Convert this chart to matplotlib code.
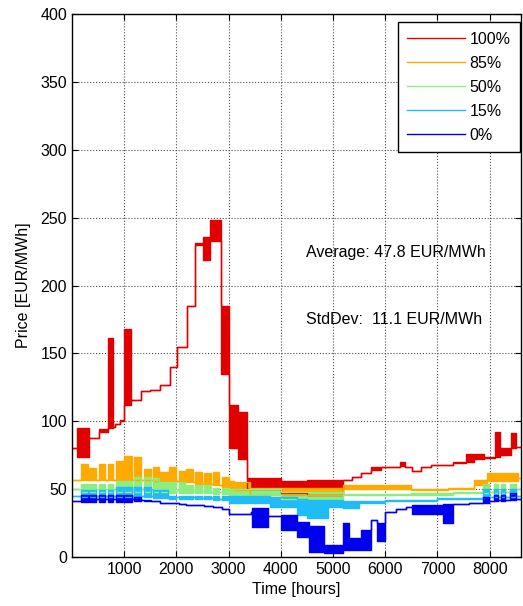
import numpy as np
import matplotlib
matplotlib.use("Agg")
import matplotlib.pyplot as plt
from matplotlib.lines import Line2D

plt.rcParams["font.family"] = ["Liberation Sans", "DejaVu Sans"]

# 前 17 周（约 170~3010 小时）每周工作日的起止小时
wk_start = [169, 329, 508, 680, 840, 1000, 1191, 1383, 1542, 1683, 1862, 2041, 2181, 2360, 2532, 2692, 2871]
wk_end = [297, 457, 636, 789, 968, 1147, 1319, 1510, 1657, 1830, 1990, 2169, 2309, 2488, 2660, 2820, 3011]

# 100% 分位：起始小时、下限、上限（阶梯）
red_h = [0, 100, 330, 510, 680, 780, 830, 910, 1000, 1130, 1330, 1500, 1680, 1870, 2020, 2200,
         2360, 2500, 2650, 2850, 3000, 3180, 3350, 4000, 4500, 5200, 5370, 5530, 5720, 5910,
         6160, 6280, 6370, 6520, 6680, 6870, 7300, 7540, 7700, 7900, 8100, 8200, 8400, 8500]
red_lo = [80, 74, 88, 92, 95, 96, 98, 100, 112, 116, 122, 123, 127, 140, 155, 185,
          230, 219, 233, 135, 80, 72, 50, 47, 46, 57, 59, 62, 64, 66,
          66, 67, 66, 63, 66, 68, 69, 70, 72, 73, 74, 75, 80, 81]
red_hi = [80, 95, 88, 94, 161, 96, 98, 101, 168, 116, 122, 123, 127, 140, 155, 185,
          231, 236, 248, 185, 112, 107, 58, 56, 57, 57, 59, 62, 66, 66,
          66, 70, 66, 63, 66, 68, 70, 76, 76, 74, 92, 80, 91, 81]

# 85% 分位：开头值、每周峰值/底值/周末值、之后的阶梯
orange_head = 57
orange_top = [68.5, 65.3, 68.5, 68.5, 71, 74.4, 73.9, 64.6, 66.5, 62.4, 66, 63.6, 64.6, 62.9, 61.6, 62.9, 59.2]
orange_bot = [57, 57, 57, 57, 57, 57, 56.5, 56.5, 56, 56, 56, 55, 55, 54, 54, 53, 51]
orange_gap = [57, 57, 57, 57, 57, 57, 56.5, 56.5, 56, 56, 56, 55, 55, 54, 54, 53, 51]
orange_h = [3011, 3100, 3400, 5200, 6500, 7200, 7700, 7950, 8550]
orange_lo = [50, 49, 46, 50, 49.5, 50, 53, 56, 58]
orange_hi = [56, 55, 51, 53, 50, 51, 57, 62, 58]

green_head = 50
green_top = [54, 54, 54, 54, 56, 56, 59, 59, 58, 55, 55, 55, 53, 53, 53, 51, 51]
green_bot = [48, 48, 48, 48, 48, 48, 48, 48, 48, 48, 47, 47, 47, 47, 47, 46.5, 46.5]
green_gap = [50, 50, 50, 50, 50, 50, 50, 49.5, 49.5, 49, 49, 49, 48.5, 48.5, 48, 48, 48]
green_h = [3011, 4000, 5200, 6500, 7300, 7880, 7980, 8080, 8150, 8210, 8300, 8380, 8500]
green_lo = [46, 43, 45.5, 46, 47, 47, 48, 47, 48, 47, 48, 47, 50]
green_hi = [50, 48, 46.5, 47, 48, 54, 48, 54, 48, 54, 48, 54, 50]

cyan_head = 45
cyan_top = [49, 49, 49, 49, 51.5, 51.5, 51.5, 51.5, 49, 49, 45, 45, 45, 45, 45, 45, 45]
cyan_bot = [44, 44, 44, 44, 44, 44, 44, 44, 43.5, 43.5, 43, 43, 43, 42.5, 42.5, 42, 42]
cyan_gap = [45, 45, 45, 45, 45, 45, 45, 45, 44.5, 44.5, 44, 44, 44, 43.5, 43.5, 43, 43]
cyan_h = [3011, 3800, 4300, 4500, 4900, 5200, 5500, 6000, 7000, 7880, 7980, 8080, 8150, 8210, 8300, 8380, 8500]
cyan_lo = [40, 37, 31, 29, 37, 36, 40, 41, 42.5, 44, 44.5, 44, 44.5, 44, 44.5, 44, 45]
cyan_hi = [45, 44, 43, 42, 42, 41, 41, 42, 43.5, 50, 44.5, 50, 44.5, 50, 44.5, 50, 45]

blue_head = 41
blue_top = [46, 46, 46, 46, 46, 46, 44, 42, 41.5, 40, 39.5, 39, 38.5, 38, 37.5, 37, 35]
blue_bot = [40.5, 40.5, 40.5, 40.5, 40.5, 40.5, 41, 41, 41, 40, 39.5, 39, 38.5, 38, 37.5, 37, 35]
blue_gap = [43, 43, 43, 43, 43, 43, 42, 41.5, 41, 40, 39.5, 39, 38.5, 38, 37.5, 37, 35]
blue_h = [3011, 3420, 3450, 3750, 4000, 4300, 4530, 4820, 5200, 5300, 5530, 5720, 5850, 6000, 6200,
          6400, 6520, 7100, 7300, 7600, 7880, 7980, 8080, 8150, 8210, 8300, 8380, 8500]
blue_lo = [32, 33.5, 22, 30, 20, 15, 4, 3, 5, 5, 5, 27, 12, 33, 35,
           37, 32, 25, 39, 40, 40, 41, 41, 42, 41, 42, 42, 43]
blue_hi = [32, 33.5, 36, 30, 31, 26, 23, 9, 25, 14, 20, 27, 25, 33, 35,
           37, 38, 39, 39, 40, 44, 41, 46, 42, 46, 42, 47, 43]


def weekly(head, top, bot, gap, h, lo, hi):
    # 把每周读数和后面的阶梯拼成一条完整的包络
    xs, los, his = [0], [head], [head]
    for i in range(len(wk_start)):
        xs += [wk_start[i], wk_end[i]]
        los += [bot[i], gap[i]]
        his += [top[i], gap[i]]
    xs, los, his = xs[:-1], los[:-1], his[:-1]
    return xs + list(h), los + list(lo), his + list(hi)


series = [
    ("100%", "#e00000", (red_h, red_lo, red_hi)),
    ("85%", "#ffaa00", weekly(orange_head, orange_top, orange_bot, orange_gap, orange_h, orange_lo, orange_hi)),
    ("50%", "#8cee80", weekly(green_head, green_top, green_bot, green_gap, green_h, green_lo, green_hi)),
    ("15%", "#20bcf8", weekly(cyan_head, cyan_top, cyan_bot, cyan_gap, cyan_h, cyan_lo, cyan_hi)),
    ("0%", "#0000ee", weekly(blue_head, blue_top, blue_bot, blue_gap, blue_h, blue_lo, blue_hi)),
]

fig = plt.figure(figsize=(5.23, 6.06), dpi=100)
ax = fig.add_axes([72 / 523, 1 - 557 / 606, (521 - 72) / 523, (557 - 14) / 606])

for name, col, (h, lo, hi) in series:
    x = np.append(h, 8760)
    lo2 = np.append(lo, lo[-1])
    hi2 = np.append(hi, hi[-1])
    ax.fill_between(x, lo2, hi2, step="post", color=col, lw=0)
    ax.step(x, lo2, where="post", color=col, lw=1)
    ax.step(x, hi2, where="post", color=col, lw=1)

ax.set_xlim(0, 8600)
ax.set_ylim(0, 400)
ax.set_xticks(range(1000, 9000, 1000))
ax.set_yticks(range(0, 401, 50))
ax.tick_params(direction="in", top=True, right=True, length=4, labelsize=11.5)
ax.grid(True, linestyle=":", color="0.3", linewidth=0.8)
ax.set_axisbelow(True)
for s in ax.spines.values():
    s.set_linewidth(1.0)

ax.set_xlabel("Time [hours]", fontsize=11.5, labelpad=4)
ax.set_ylabel("Price [EUR/MWh]", fontsize=11.5, labelpad=7)

ax.text(4490, 224, "Average: 47.8 EUR/MWh", fontsize=11.5, va="center", ha="left")
ax.text(4490, 174.6, "StdDev:  11.1 EUR/MWh", fontsize=11.5, va="center", ha="left")

handles = [Line2D([], [], color=c, lw=1) for _, c, _ in series]
labels = [n for n, _, _ in series]
leg = ax.legend(handles, labels, loc="upper right", bbox_to_anchor=(0.998, 0.985),
                borderaxespad=0, fontsize=11.5, fancybox=False, framealpha=1,
                edgecolor="black", handlelength=3.6, handletextpad=0.3,
                labelspacing=0.56, borderpad=0.6)
leg.get_frame().set_linewidth(1.0)

fig.savefig("out.png", dpi=100)
